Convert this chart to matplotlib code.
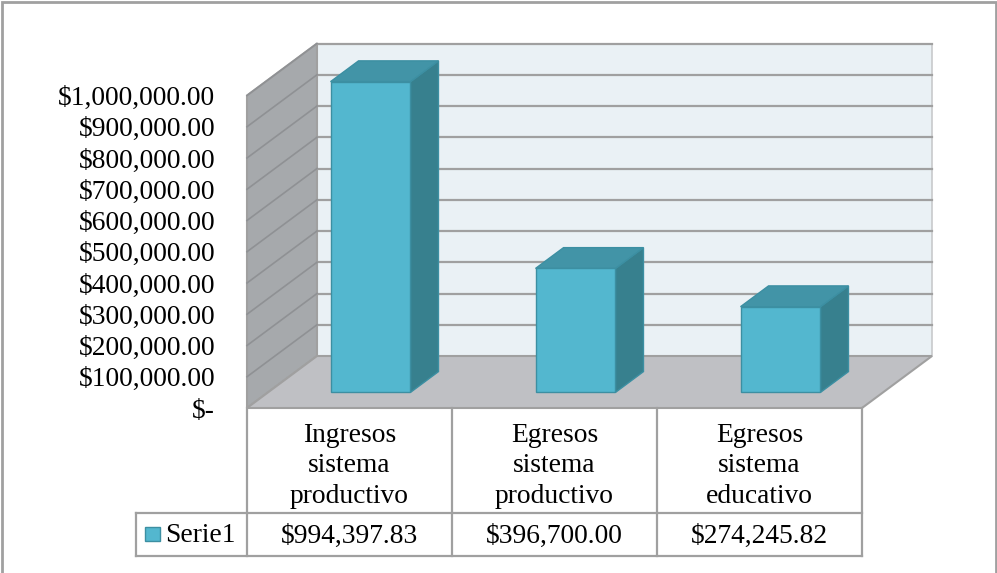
#!/usr/bin/env python3
"""Excel-style 3D column chart with a data table underneath."""

import matplotlib

matplotlib.use("Agg")
import matplotlib.pyplot as plt
from matplotlib.patches import Polygon, Rectangle
from matplotlib.transforms import ScaledTranslation

CATEGORIES = [
    "Ingresos\nsistema\nproductivo",
    "Egresos\nsistema\nproductivo",
    "Egresos\nsistema\neducativo",
]
SERIES_NAME = "Serie1"
VALUES = [994397.83, 396700.00, 274245.82]
Y_TICKS = [0, 100000, 200000, 300000, 400000, 500000,
           600000, 700000, 800000, 900000, 1000000]

W, H = 997, 573
DEPTH = (0.70, 0.52)  # inches of shift from front plane to back wall

FONT = ["Liberation Serif", "DejaVu Serif"]
FS = 19.8
GRID = "#A0A0A0"
BAR_FRONT = "#53B7CF"
BAR_SIDE = "#37808E"
BAR_TOP = "#4294A7"
BAR_EDGE = "#3C8FA2"


def money(v):
    return "$-" if v == 0 else f"${v:,.2f}"


def px(x, y):
    # pixel position from the top-left corner -> figure fraction
    return (x / W, 1 - y / H)


fig = plt.figure(figsize=(W / 100, H / 100), dpi=100)
plt.rcParams["font.family"] = FONT

# axes spanning the front plane of the 3D box
ax = fig.add_axes([247 / W, (H - 408) / H, 615 / W, 312.5 / H])
ax.set_xlim(0, len(CATEGORIES))
ax.set_ylim(0, Y_TICKS[-1])
ax.patch.set_visible(False)
for sp in ax.spines.values():
    sp.set_visible(False)
ax.set_xticks([])
ax.set_yticks(Y_TICKS)
ax.set_yticklabels([money(v) for v in Y_TICKS], fontsize=FS, family=FONT)
ax.tick_params(axis="y", length=0, pad=23)

fig.canvas.draw()
to_fig = fig.transFigure.inverted()


def proj(x, y, z):
    shift = ScaledTranslation(DEPTH[0] * z, DEPTH[1] * z, fig.dpi_scale_trans)
    disp = (ax.transData + shift).transform((x, y))
    return tuple(to_fig.transform(disp))


def face(pts, fc, ec, lw, z):
    fig.patches.append(Polygon([proj(*p) for p in pts], closed=True,
                               transform=fig.transFigure, facecolor=fc,
                               edgecolor=ec, linewidth=lw, zorder=z,
                               joinstyle="miter"))


def seg(p0, p1, color, lw, z):
    a, b = proj(*p0), proj(*p1)
    fig.add_artist(plt.Line2D([a[0], b[0]], [a[1], b[1]],
                              transform=fig.transFigure, color=color,
                              linewidth=lw, zorder=z))


n = len(CATEGORIES)
top = Y_TICKS[-1]

# walls and floor
face([(0, 0, 1), (n, 0, 1), (n, top, 1), (0, top, 1)], "#EAF1F5", "#C8CACC", 1.2, 1)
face([(0, 0, 0), (0, 0, 1), (0, top, 1), (0, top, 0)], "#A6A9AC", GRID, 1.5, 1)
face([(0, 0, 0), (n, 0, 0), (n, 0, 1), (0, 0, 1)], "#BFC0C4", GRID, 1.5, 2)

for v in Y_TICKS[1:]:
    seg((0, v, 1), (n, v, 1), GRID, 1.6, 3)
    seg((0, v, 0), (0, v, 1), "#8F9194", 1.2, 3)

# bars
bw, z0, z1 = 0.39, 0.3, 0.7
for i, v in enumerate(VALUES):
    x0, x1 = i + 0.5 - bw / 2, i + 0.5 + bw / 2
    face([(x1, 0, z0), (x1, 0, z1), (x1, v, z1), (x1, v, z0)], BAR_SIDE, BAR_EDGE, 1, 5)
    face([(x0, v, z0), (x1, v, z0), (x1, v, z1), (x0, v, z1)], BAR_TOP, BAR_EDGE, 1, 5)
    face([(x0, 0, z0), (x1, 0, z0), (x1, v, z0), (x0, v, z0)], BAR_FRONT, BAR_EDGE, 1, 6)

# data table
tcol = "#A0A0A0"
row_top, row_mid, row_bot = 408, 513, 556
col_x = [proj(i, 0, 0)[0] * W for i in range(n + 1)]
key_left = 136


def hline(x0, x1, y):
    a, b = px(x0, y), px(x1, y)
    fig.add_artist(plt.Line2D([a[0], b[0]], [a[1], b[1]], transform=fig.transFigure,
                              color=tcol, linewidth=1.6, zorder=4))


def vline(x, y0, y1):
    a, b = px(x, y0), px(x, y1)
    fig.add_artist(plt.Line2D([a[0], b[0]], [a[1], b[1]], transform=fig.transFigure,
                              color=tcol, linewidth=1.6, zorder=4))


hline(key_left, col_x[-1], row_mid)
hline(key_left, col_x[-1], row_bot)
for x in col_x:
    vline(x, row_top, row_bot)
vline(key_left, row_mid, row_bot)

for i, (cat, v) in enumerate(zip(CATEGORIES, VALUES)):
    cx = (col_x[i] + col_x[i + 1]) / 2
    fig.text(*px(cx, 466), cat, ha="center", va="center", fontsize=FS,
             family=FONT, linespacing=1.27, color="#000000")
    fig.text(*px(cx, 536), money(v), ha="center", va="center", fontsize=FS,
             family=FONT, color="#000000")

kx, ky = px(145, 541)
fig.patches.append(Rectangle((kx, ky), 15 / W, 14 / H, transform=fig.transFigure,
                             facecolor=BAR_FRONT, edgecolor=BAR_EDGE, linewidth=1))
fig.text(*px(165, 536), SERIES_NAME, ha="left", va="center", fontsize=FS,
         family=FONT, color="#000000")

# chart area border
bx, by = px(2, 585)
fig.patches.append(Rectangle((bx, by), 994 / W, 583 / H, transform=fig.transFigure,
                             facecolor="none", edgecolor="#A0A0A0", linewidth=2))

fig.savefig("out.png", dpi=100, facecolor="white")
